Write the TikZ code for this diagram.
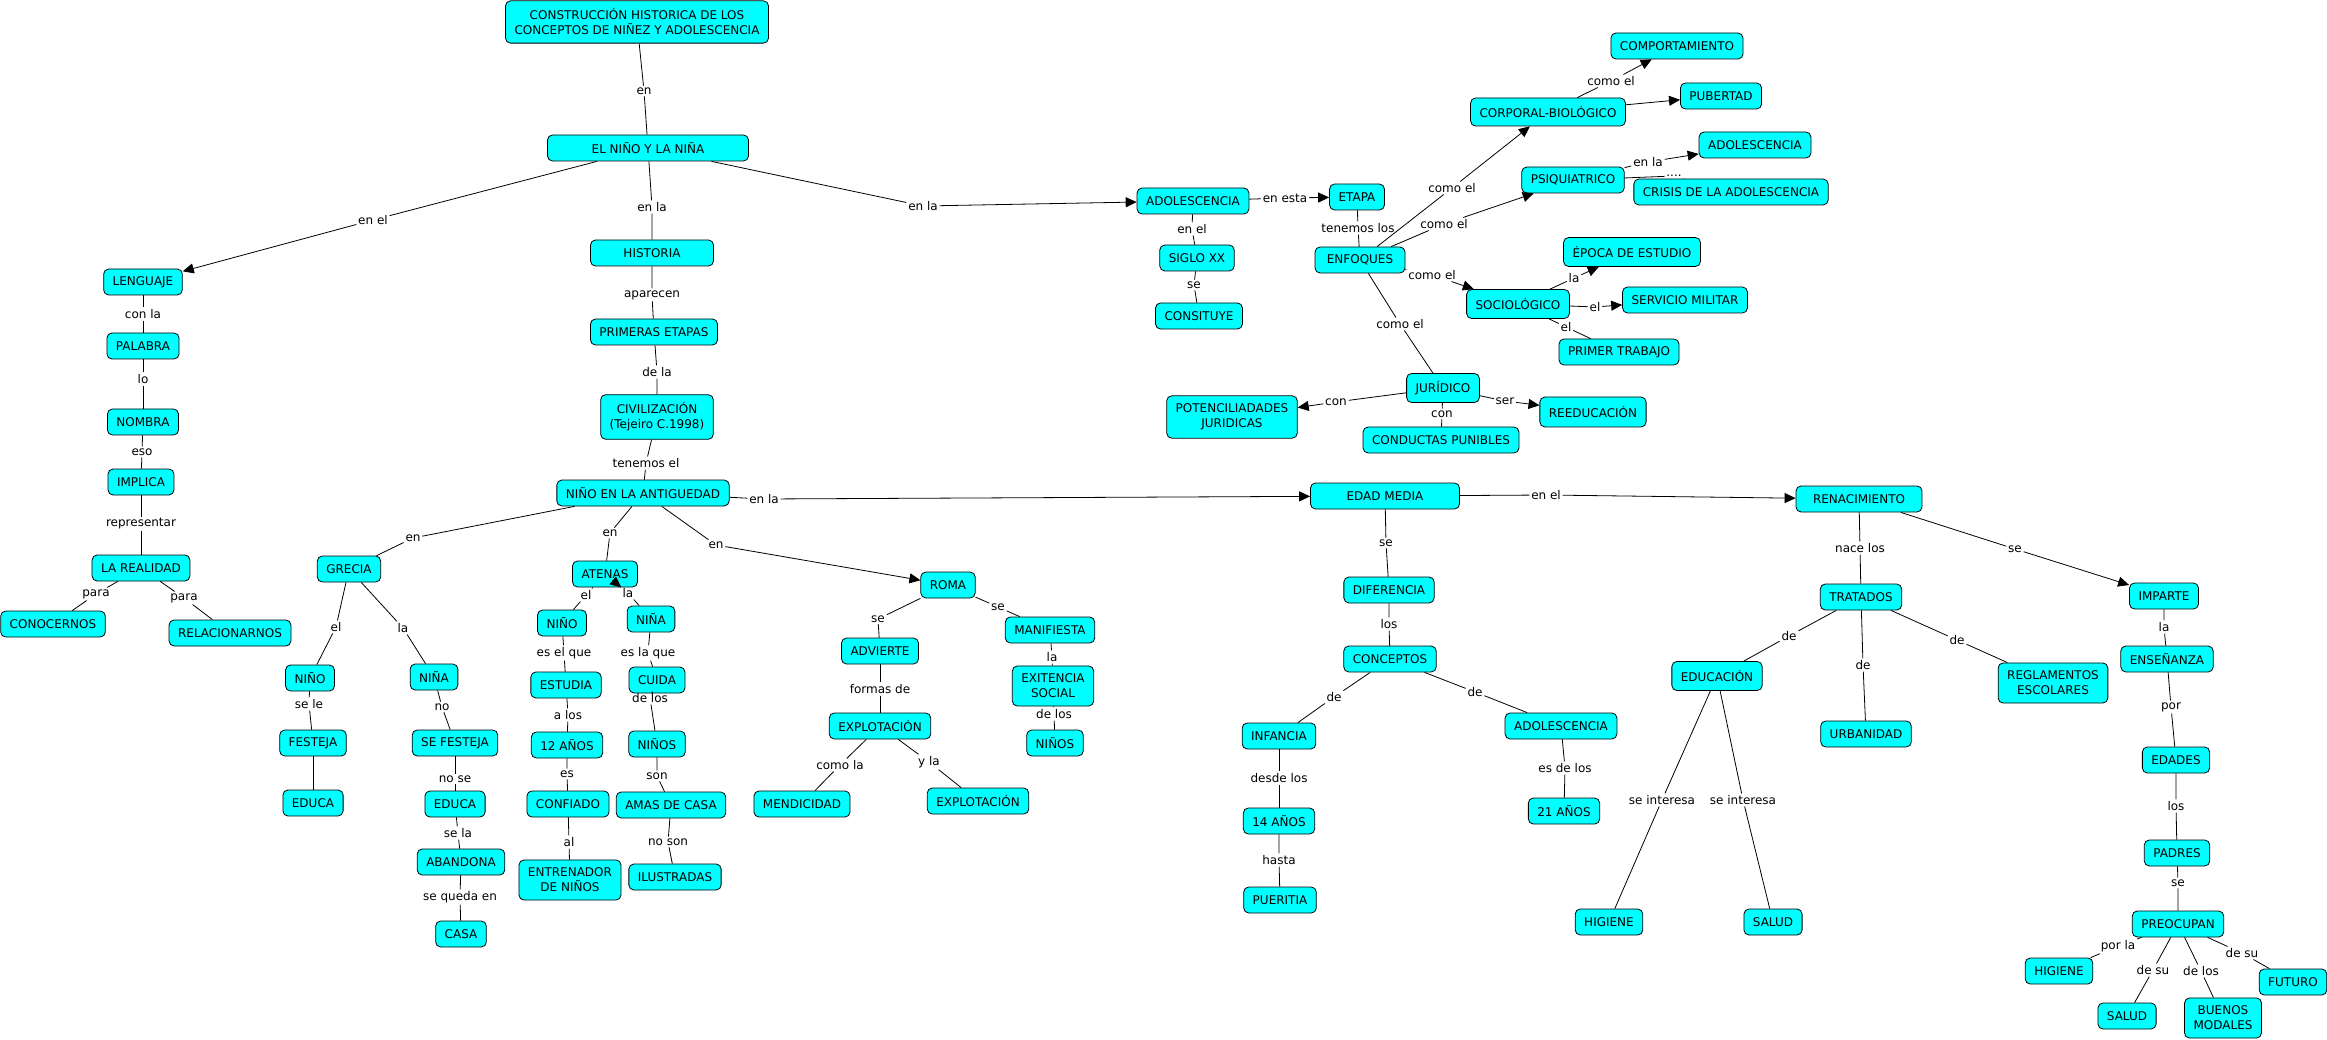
\documentclass[tikz,border=0pt]{standalone}
\usepackage{fontspec}
\setmainfont{DejaVu Sans}
\usetikzlibrary{arrows.meta}

\definecolor{aqua}{RGB}{0,255,255}

\tikzset{
    concept/.style={shape=rectangle, draw=black, fill=aqua, rounded corners=5pt, inner xsep=9pt, inner ysep=5pt, minimum height=26pt, align=center, font=\fontsize{12}{15}\selectfont},
    concepttwo/.style={concept, inner ysep=8pt},
    lnk/.style={inner sep=1.5pt, font=\fontsize{12}{15}\selectfont},
}

\begin{document}
\begin{tikzpicture}[x=1pt, y=-1pt, line width=0.8pt, >={Triangle[length=11pt, width=10pt]}]
    \useasboundingbox (0, 0) rectangle (2327, 1040);

    % top of the map
    \node[name=title, concepttwo] at (637, 22) {CONSTRUCCIÓN HISTORICA DE LOS\\CONCEPTOS DE NIÑEZ Y ADOLESCENCIA};
    \node[name=nino, concept, minimum width=201pt] at (648, 148) {EL NIÑO Y LA NIÑA};
    \node[name=w1, lnk] at (644, 91) {en};
    \draw (title) -- (w1) -- (nino);

    % lenguaje
    \node[name=leng, concept] at (143, 282) {LENGUAJE};
    \node[name=pal, concept] at (143, 346) {PALABRA};
    \node[name=nom, concept] at (143, 422) {NOMBRA};
    \node[name=impl, concept] at (141, 482) {IMPLICA};
    \node[name=real, concept] at (141, 568) {LA REALIDAD};
    \node[name=conoc, concept] at (53, 624) {CONOCERNOS};
    \node[name=relac, concept] at (230, 633) {RELACIONARNOS};
    \node[name=w2, lnk] at (373, 220) {en el};
    \node[name=w8, lnk] at (143, 314) {con la};
    \node[name=w9, lnk] at (143, 379) {lo};
    \node[name=w10, lnk] at (142, 452) {eso};
    \node[name=w11, lnk] at (141, 524) {representar};
    \node[name=w12, lnk] at (96, 594) {para};
    \node[name=w13, lnk] at (184, 598) {para};
    \draw[->] (nino) -- (w2) -- (leng);
    \draw (leng) -- (w8) -- (pal);
    \draw (pal) -- (w9) -- (nom);
    \draw (nom) -- (w10) -- (impl);
    \draw (impl) -- (w11) -- (real);
    \draw (real) -- (w12) -- (conoc);
    \draw (real) -- (w13) -- (relac);

    % historia
    \node[name=hist, concept, minimum width=123pt] at (652, 253) {HISTORIA};
    \node[name=prim, concept] at (654, 332) {PRIMERAS ETAPAS};
    \node[name=civ, concepttwo] at (657, 417) {CIVILIZACIÓN\\(Tejeiro C.1998)};
    \node[name=ant, concept] at (643, 493) {NIÑO EN LA ANTIGUEDAD};
    \node[name=w3, lnk] at (652, 207) {en la};
    \node[name=w5, lnk] at (652, 295) {aparecen};
    \node[name=w6, lnk] at (657, 372) {de la};
    \node[name=w7, lnk] at (646, 463) {tenemos el};
    \draw (nino) -- (w3) -- (hist);
    \draw (hist) -- (w5) -- (prim);
    \draw (prim) -- (w6) -- (civ);
    \draw (civ) -- (w7) -- (ant);

    % grecia
    \node[name=grecia, concept] at (349, 569) {GRECIA};
    \node[name=ninoG, concept] at (310, 678) {NIÑO};
    \node[name=ninaG, concept] at (434, 677) {NIÑA};
    \node[name=festeja, concept] at (313, 743) {FESTEJA};
    \node[name=educaG, concept] at (313, 803) {EDUCA};
    \node[name=sefest, concept] at (455, 743) {SE FESTEJA};
    \node[name=educaN, concept] at (455, 804) {EDUCA};
    \node[name=aband, concept] at (461, 862) {ABANDONA};
    \node[name=casa, concept] at (461, 934) {CASA};
    \node[name=w14, lnk] at (413, 538) {en};
    \node[name=w18, lnk] at (336, 627) {el};
    \node[name=w19, lnk] at (403, 628) {la};
    \node[name=w20, lnk] at (309, 704) {se le};
    \node[name=w21, lnk] at (442, 707) {no};
    \node[name=w22, lnk] at (455, 779) {no se};
    \node[name=w23, lnk] at (458, 833) {se la};
    \node[name=w24, lnk] at (460, 897) {se queda en};
    \draw (ant) -- (w14) -- (grecia);
    \draw (grecia) -- (w18) -- (ninoG);
    \draw (grecia) -- (w19) -- (ninaG);
    \draw (ninoG) -- (w20) -- (festeja);
    \draw (festeja) -- (educaG);
    \draw (ninaG) -- (w21) -- (sefest);
    \draw (sefest) -- (w22) -- (educaN);
    \draw (educaN) -- (w23) -- (aband);
    \draw (aband) -- (w24) -- (casa);

    % atenas
    \node[name=atenas, concept] at (605, 574) {ATENAS};
    \node[name=ninoA, concept] at (562, 623) {NIÑO};
    \node[name=ninaA, concept] at (651, 619) {NIÑA};
    \node[name=estudia, concept] at (566, 685) {ESTUDIA};
    \node[name=cuida, concept] at (657, 680) {CUIDA};
    \node[name=doce, concept] at (567, 745) {12 AÑOS};
    \node[name=ninosA, concept] at (657, 744) {NIÑOS};
    \node[name=confiado, concept] at (568, 804) {CONFIADO};
    \node[name=amas, concept] at (671, 805) {AMAS DE CASA};
    \node[name=entren, concepttwo] at (570, 880) {ENTRENADOR\\DE NIÑOS};
    \node[name=ilus, concept] at (675, 877) {ILUSTRADAS};
    \node[name=w15, lnk] at (610, 533) {en};
    \node[name=w25, lnk] at (586, 595) {el};
    \node[name=w26, lnk] at (628, 593) {la};
    \node[name=w27, lnk] at (564, 653) {es el que};
    \node[name=w28, lnk] at (648, 653) {es la que};
    \node[name=w29, lnk] at (568, 715) {a los};
    \node[name=w30, lnk] at (650, 698) {de los};
    \node[name=w31, lnk] at (567, 774) {es};
    \node[name=w32, lnk] at (657, 776) {son};
    \node[name=w33, lnk] at (569, 842) {al};
    \node[name=w34, lnk] at (668, 842) {no son};
    \draw (ant) -- (w15) -- (atenas);
    \draw (atenas) -- (w25) -- (ninoA);
    \draw[->] (ninaA) -- (w26) -- (atenas);
    \draw (ninoA) -- (w27) -- (estudia);
    \draw (ninaA) -- (w28) -- (cuida);
    \draw (estudia) -- (w29) -- (doce);
    \draw (cuida) -- (w30) -- (ninosA);
    \draw (doce) -- (w31) -- (confiado);
    \draw (ninosA) -- (w32) -- (amas);
    \draw (confiado) -- (w33) -- (entren);
    \draw (amas) -- (w34) -- (ilus);

    % roma
    \node[name=roma, concept] at (948, 585) {ROMA};
    \node[name=advierte, concept] at (880, 651) {ADVIERTE};
    \node[name=manif, concept] at (1050, 630) {MANIFIESTA};
    \node[name=exist, concepttwo] at (1053, 686) {EXITENCIA\\SOCIAL};
    \node[name=explot, concept] at (880, 726) {EXPLOTACIÓN};
    \node[name=mendic, concept] at (802, 804) {MENDICIDAD};
    \node[name=explotB, concept] at (978, 801) {EXPLOTACIÓN};
    \node[name=ninosR, concept] at (1055, 743) {NIÑOS};
    \node[name=w16, lnk] at (716, 545) {en};
    \node[name=w35, lnk] at (878, 619) {se};
    \node[name=w36, lnk] at (998, 607) {se};
    \node[name=w37, lnk] at (880, 689) {formas de};
    \node[name=w38, lnk] at (1052, 657) {la};
    \node[name=w39, lnk] at (1054, 714) {de los};
    \node[name=w40, lnk] at (840, 765) {como la};
    \node[name=w41, lnk] at (929, 762) {y la};
    \draw[->] (ant) -- (w16) -- (roma);
    \draw (roma) -- (w35) -- (advierte);
    \draw (roma) -- (w36) -- (manif);
    \draw (advierte) -- (w37) -- (explot);
    \draw (manif) -- (w38) -- (exist);
    \draw (exist) -- (w39) -- (ninosR);
    \draw (explot) -- (w40) -- (mendic);
    \draw (explot) -- (w41) -- (explotB);

    % adolescencia
    \node[name=adol, concept] at (1193, 201) {ADOLESCENCIA};
    \node[name=siglo, concept] at (1197, 258) {SIGLO XX};
    \node[name=consit, concept] at (1199, 316) {CONSITUYE};
    \node[name=etapa, concept] at (1357, 197) {ETAPA};
    \node[name=enfoq, concept, minimum width=90pt] at (1360, 260) {ENFOQUES};
    \node[name=w4, lnk] at (923, 206) {en la};
    \node[name=w42, lnk] at (1285, 198) {en esta};
    \node[name=w43, lnk] at (1192, 229) {en el};
    \node[name=w44, lnk] at (1194, 285) {se};
    \node[name=w45, lnk] at (1358, 228) {tenemos los};
    \draw[->] (nino) -- (w4) -- (adol);
    \draw[->] (adol) -- (w42) -- (etapa);
    \draw (adol) -- (w43) -- (siglo);
    \draw (siglo) -- (w44) -- (consit);
    \draw (etapa) -- (w45) -- (enfoq);

    % enfoques
    \node[name=corp, concept, minimum height=28pt] at (1548, 112) {CORPORAL-BIOLÓGICO};
    \node[name=comport, concept] at (1677, 46) {COMPORTAMIENTO};
    \node[name=pub, concept] at (1721, 96) {PUBERTAD};
    \node[name=psiq, concept] at (1573, 180) {PSIQUIATRICO};
    \node[name=adolB, concept] at (1755, 145) {ADOLESCENCIA};
    \node[name=crisis, concept] at (1731, 192) {CRISIS DE LA ADOLESCENCIA};
    \node[name=socio, concept, minimum height=29pt] at (1518, 304) {SOCIOLÓGICO};
    \node[name=epoca, concept, minimum height=29pt] at (1632, 252) {ÉPOCA DE ESTUDIO};
    \node[name=servicio, concept] at (1685, 300) {SERVICIO MILITAR};
    \node[name=primer, concept] at (1619, 352) {PRIMER TRABAJO};
    \node[name=jur, concept, minimum height=29pt] at (1443, 388) {JURÍDICO};
    \node[name=potenc, concepttwo] at (1232, 417) {POTENCILIADADES\\JURIDICAS};
    \node[name=conduct, concept] at (1441, 440) {CONDUCTAS PUNIBLES};
    \node[name=reeduc, concept, minimum height=30pt] at (1593, 412) {REEDUCACIÓN};
    \node[name=w46, lnk] at (1452, 188) {como el};
    \node[name=w47, lnk] at (1444, 224) {como el};
    \node[name=w48, lnk] at (1432, 275) {como el};
    \node[name=w49, lnk] at (1400, 324) {como el};
    \node[name=w50, lnk] at (1611, 81) {como el};
    \node[name=w51, lnk] at (1648, 162) {en la};
    \node[name=w52, lnk] at (1674, 176) {....};
    \node[name=w53, lnk] at (1574, 278) {la};
    \node[name=w54, lnk] at (1595, 307) {el};
    \node[name=w55, lnk] at (1566, 327) {el};
    \node[name=w56, lnk] at (1336, 402) {con};
    \node[name=w57, lnk] at (1442, 414) {con};
    \node[name=w58, lnk] at (1505, 401) {ser};
    \draw[->] (enfoq) -- (w46) -- (corp);
    \draw[->] (enfoq) -- (w47) -- (psiq);
    \draw[->] (enfoq) -- (w48) -- (socio);
    \draw (enfoq) -- (w49) -- (jur);
    \draw[->] (corp) -- (w50) -- (comport);
    \draw[->] (corp) -- (pub);
    \draw[->] (psiq) -- (w51) -- (adolB);
    \draw (psiq) -- (w52) -- (crisis);
    \draw[->] (socio) -- (w53) -- (epoca);
    \draw[->] (socio) -- (w54) -- (servicio);
    \draw (socio) -- (w55) -- (primer);
    \draw[->] (jur) -- (w56) -- (potenc);
    \draw (jur) -- (w57) -- (conduct);
    \draw[->] (jur) -- (w58) -- (reeduc);

    % edad media
    \node[name=edad, concept, minimum width=149pt] at (1385, 496) {EDAD MEDIA};
    \node[name=difer, concept] at (1389, 590) {DIFERENCIA};
    \node[name=concep, concept] at (1390, 659) {CONCEPTOS};
    \node[name=infan, concept] at (1279, 736) {INFANCIA};
    \node[name=catorce, concept] at (1279, 821) {14 AÑOS};
    \node[name=puer, concept] at (1280, 900) {PUERITIA};
    \node[name=adolC, concept] at (1561, 726) {ADOLESCENCIA};
    \node[name=veintiuno, concept] at (1564, 811) {21 AÑOS};
    \node[name=w17, lnk] at (764, 499) {en la};
    \node[name=w60, lnk] at (1386, 543) {se};
    \node[name=w61, lnk] at (1389, 624) {los};
    \node[name=w62, lnk] at (1334, 697) {de};
    \node[name=w63, lnk] at (1475, 692) {de};
    \node[name=w64, lnk] at (1279, 778) {desde los};
    \node[name=w65, lnk] at (1279, 860) {hasta};
    \node[name=w66, lnk] at (1565, 768) {es de los};
    \draw[->] (ant) -- (w17) -- (edad);
    \draw (edad) -- (w60) -- (difer);
    \draw (difer) -- (w61) -- (concep);
    \draw (concep) -- (w62) -- (infan);
    \draw (concep) -- (w63) -- (adolC);
    \draw (infan) -- (w64) -- (catorce);
    \draw (catorce) -- (w65) -- (puer);
    \draw (adolC) -- (w66) -- (veintiuno);

    % renacimiento
    \node[name=renac, concept, minimum width=126pt] at (1859, 499) {RENACIMIENTO};
    \node[name=trat, concept] at (1861, 597) {TRATADOS};
    \node[name=educ, concept, minimum height=29pt] at (1717, 676) {EDUCACIÓN};
    \node[name=urban, concept] at (1866, 734) {URBANIDAD};
    \node[name=regl, concepttwo] at (2053, 683) {REGLAMENTOS\\ESCOLARES};
    \node[name=higR, concept] at (1609, 922) {HIGIENE};
    \node[name=saludR, concept] at (1773, 922) {SALUD};
    \node[name=imparte, concept] at (2164, 596) {IMPARTE};
    \node[name=ensen, concept] at (2167, 659) {ENSEÑANZA};
    \node[name=edades, concept] at (2176, 760) {EDADES};
    \node[name=padres, concept] at (2177, 853) {PADRES};
    \node[name=preoc, concept] at (2178, 924) {PREOCUPAN};
    \node[name=higP, concept] at (2059, 971) {HIGIENE};
    \node[name=saludP, concept] at (2127, 1016) {SALUD};
    \node[name=buenos, concepttwo] at (2223, 1018) {BUENOS\\MODALES};
    \node[name=futuro, concept] at (2293, 982) {FUTURO};
    \node[name=w59, lnk] at (1546, 495) {en el};
    \node[name=w67, lnk] at (1860, 548) {nace los};
    \node[name=w68, lnk] at (2015, 549) {se};
    \node[name=w69, lnk] at (1789, 636) {de};
    \node[name=w70, lnk] at (1863, 665) {de};
    \node[name=w71, lnk] at (1957, 640) {de};
    \node[name=w72, lnk] at (1662, 800) {se interesa};
    \node[name=w73, lnk] at (1743, 800) {se interesa};
    \node[name=w74, lnk] at (2164, 627) {la};
    \node[name=w75, lnk] at (2171, 707) {por};
    \node[name=w76, lnk] at (2176, 806) {los};
    \node[name=w77, lnk] at (2178, 883) {se};
    \node[name=w78, lnk] at (2118, 946) {por la};
    \node[name=w79, lnk] at (2153, 970) {de su};
    \node[name=w80, lnk] at (2201, 971) {de los};
    \node[name=w81, lnk] at (2242, 953) {de su};
    \draw[->] (edad) -- (w59) -- (renac);
    \draw (renac) -- (w67) -- (trat);
    \draw[->] (renac) -- (w68) -- (imparte);
    \draw (trat) -- (w69) -- (educ);
    \draw (trat) -- (w70) -- (urban);
    \draw (trat) -- (w71) -- (regl);
    \draw (educ) -- (w72) -- (higR);
    \draw (educ) -- (w73) -- (saludR);
    \draw (imparte) -- (w74) -- (ensen);
    \draw (ensen) -- (w75) -- (edades);
    \draw (edades) -- (w76) -- (padres);
    \draw (padres) -- (w77) -- (preoc);
    \draw (preoc) -- (w78) -- (higP);
    \draw (preoc) -- (w79) -- (saludP);
    \draw (preoc) -- (w80) -- (buenos);
    \draw (preoc) -- (w81) -- (futuro);
\end{tikzpicture}
\end{document}
